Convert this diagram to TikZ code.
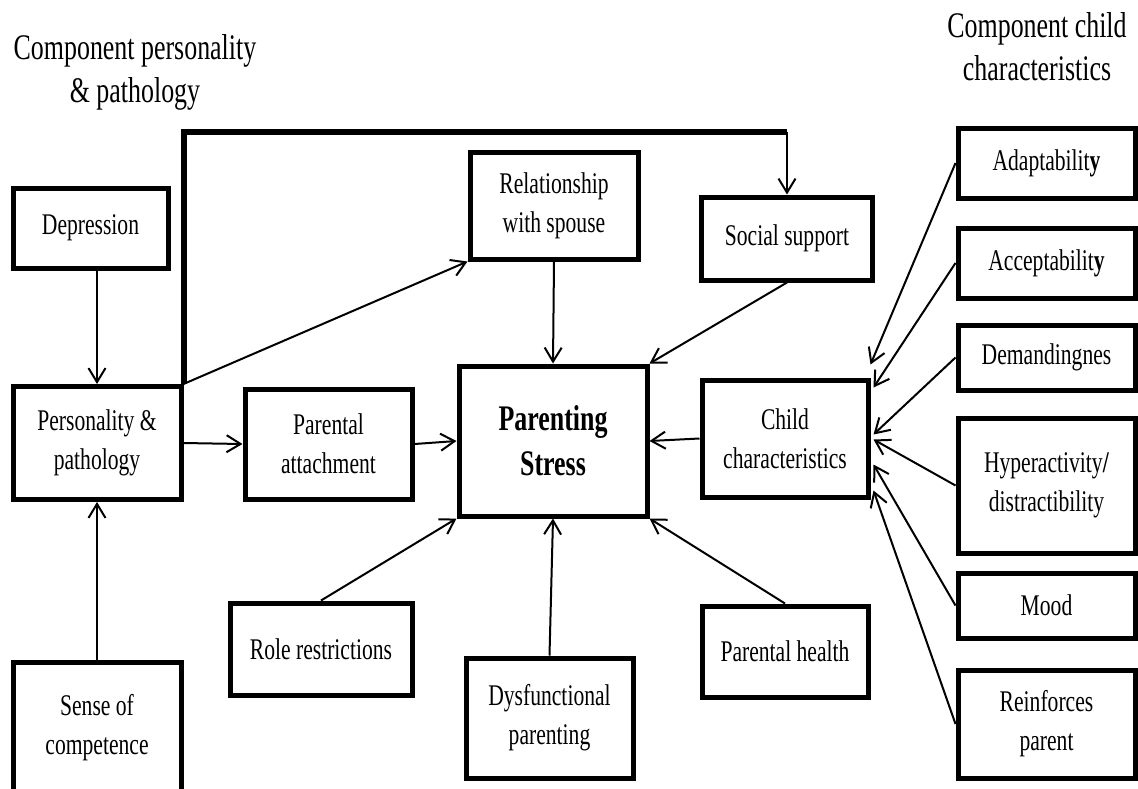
\documentclass[tikz,border=0pt]{standalone}
\usepackage{fontspec}
\setmainfont{Liberation Serif}[FakeStretch=0.72]
\usetikzlibrary{arrows.meta}
\usetikzlibrary{positioning}
\usetikzlibrary{calc}
\tikzset{
  block/.style={draw, line width=5pt, align=center, inner sep=2pt,
    font=\fontsize{30}{39}\selectfont},
  boxsize/.style 2 args={minimum width=#1pt, minimum height=#2pt},
  heading/.style={align=center, font=\fontsize{36}{43}\selectfont},
  arr/.style={-{Straight Barb[length=14pt,width=17pt]}, line width=2pt},
}
\begin{document}
\begin{tikzpicture}[x=1pt, y=-1pt]
  \useasboundingbox (0,0) rectangle (1138,788);

  % Headings
  \node[heading] (head_left) at (135,72) {Component personality\\\& pathology};
  \node[heading] (head_right) at (1037,47) {Component child\\characteristics};

  % Define nodes
  \node[block, boxsize={155}{80}] (depression) at (90.5,228) {Depression};
  \node[block, boxsize={168}{113}] (personality) at (97,443) {Personality \&\\pathology};
  \node[block, boxsize={168}{132}] (competence) at (97,728) {Sense of\\competence};
  \node[block, boxsize={167}{110}] (attachment) at (328.5,444) {Parental\\attachment};
  \node[block, boxsize={182}{92}] (role) at (321,649) {Role restrictions};
  \node[block, boxsize={168}{107}] (spouse) at (554,205.5) {Relationship\\with spouse};
  \node[block, boxsize={171}{83}] (social) at (787,238.5) {Social support};
  \node[block, boxsize={188}{150}, font=\fontsize{36}{45}\selectfont\bfseries] (stress) at (553,441) {Parenting\\Stress};
  \node[block, boxsize={166}{117}] (child) at (785,438.5) {Child\\characteristics};
  \node[block, boxsize={167}{120}] (dysfunctional) at (549.5,718) {Dysfunctional\\parenting};
  \node[block, boxsize={166}{91}] (health) at (785,651.5) {Parental health};

  \node[block, boxsize={177}{70}] (adapt) at (1046.5,163) {Adaptabilit\textbf{y}};
  \node[block, boxsize={177}{70}] (accept) at (1046.5,263) {Acceptabilit\textbf{y}};
  \node[block, boxsize={177}{65}] (demand) at (1046.5,357.5) {Demandingnes};
  \node[block, boxsize={177}{135}] (hyper) at (1046.5,485.5) {Hyperactivity\textbf{/}\\distractibility};
  \node[block, boxsize={177}{65}] (mood) at (1046.5,605.5) {Mood};
  \node[block, boxsize={177}{108}] (reinforce) at (1046.5,724) {Reinforces\\parent};

  \coordinate (bend) at (787,132);

  % Connect nodes
  \draw[arr] (depression.south -| personality.north) -- (personality.north);
  \draw[arr] (competence.north) -- (personality.south);
  \draw[arr] (personality.east) -- (attachment.west);
  \draw[arr] (personality.north east) -- (spouse.south west);
  \draw[line width=6pt] (personality.north east) -- (personality.north east |- bend) -- (bend);
  \draw[arr] (bend) -- (social.north);

  \draw[arr] (attachment.east) -- (stress.west);
  \draw[arr] (spouse.south) -- (stress.north);
  \draw[arr] (social.south) -- (stress.north east);
  \draw[arr] (child.west) -- (stress.east);
  \draw[arr] (role.north) -- (stress.south west);
  \draw[arr] (dysfunctional.north) -- (stress.south);
  \draw[arr] (health.north) -- (stress.south east);

  \draw[arr] (adapt.west) -- ($(child.north east)+(0,-13)$);
  \draw[arr] (accept.west) -- ($(child.north east)+(3,10)$);
  \draw[arr] (demand.west) -- ($(child.north east)+(3,57)$);
  \draw[arr] (hyper.west) -- ($(child.north east)+(3,62)$);
  \draw[arr] (mood.west) -- ($(child.north east)+(3,87)$);
  \draw[arr] (reinforce.west) -- ($(child.north east)+(3,113)$);

\end{tikzpicture}
\end{document}
